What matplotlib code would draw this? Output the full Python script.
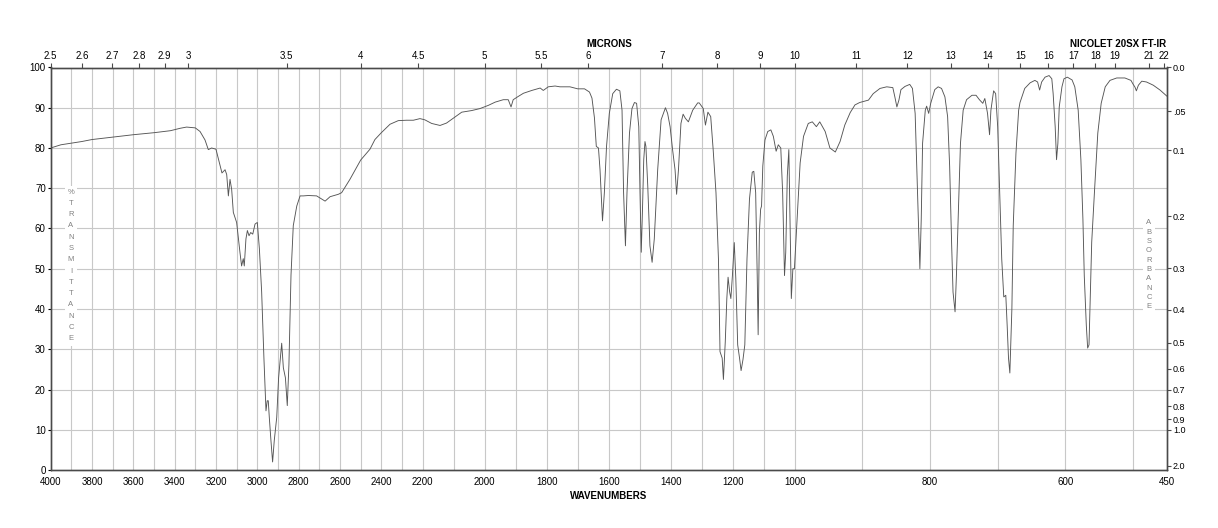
import numpy as np
import matplotlib
matplotlib.use("Agg")
import matplotlib.pyplot as plt
from matplotlib.patches import Rectangle

plt.rcParams['font.family'] = ['Liberation Sans', 'DejaVu Sans']

# spectrum (wavenumber, %T)
wavenumber = [4000, 3950, 3900, 3850, 3800, 3700, 3600, 3500, 3420, 3373, 3342, 3300, 3277, 3253, 3237,
              3221, 3200, 3187, 3171, 3156, 3148, 3140, 3132, 3124, 3116, 3100, 3084, 3076, 3068, 3063,
              3055, 3048, 3040, 3032, 3022, 3011, 3000, 2990, 2979, 2968, 2958, 2952, 2947, 2942, 2934,
              2926, 2918, 2906, 2897, 2890, 2882, 2874, 2864, 2855, 2847, 2837, 2826, 2809, 2793, 2777,
              2753, 2713, 2688, 2672, 2648, 2608, 2592, 2552, 2500, 2455, 2431, 2400, 2358, 2318, 2278,
              2245, 2213, 2193, 2171, 2144, 2123, 2096, 2074, 2042, 2015, 1988, 1966, 1940, 1924, 1915,
              1908, 1892, 1875, 1848, 1821, 1811, 1795, 1773, 1757, 1725, 1700, 1678, 1662, 1654, 1646,
              1640, 1633, 1628, 1620, 1614, 1607, 1598, 1587, 1575, 1564, 1557, 1552, 1546, 1541, 1533,
              1525, 1517, 1510, 1503, 1499, 1495, 1491, 1487, 1483, 1480, 1474, 1467, 1460, 1453, 1442,
              1431, 1417, 1410, 1402, 1394, 1386, 1381, 1375, 1367, 1360, 1353, 1343, 1329, 1313, 1308,
              1295, 1288, 1280, 1271, 1263, 1254, 1246, 1241, 1234, 1230, 1224, 1219, 1215, 1210, 1206,
              1201, 1195, 1190, 1184, 1178, 1173, 1167, 1161, 1154, 1146, 1137, 1132, 1126, 1121, 1118,
              1114, 1110, 1107, 1103, 1096, 1087, 1077, 1069, 1060, 1053, 1045, 1039, 1033, 1029, 1024,
              1019, 1015, 1011, 1006, 1001, 997, 992, 987, 980, 974, 968, 963, 955, 948, 940,
              933, 926, 918, 911, 904, 891, 884, 874, 864, 855, 852, 849, 846, 843, 837,
              830, 826, 822, 820, 817, 815, 813, 811, 807, 805, 802, 799, 793, 788, 783,
              778, 774, 771, 768, 766, 763, 761, 758, 755, 751, 746, 738, 732, 727, 722,
              719, 715, 712, 710, 706, 703, 700, 697, 694, 691, 688, 686, 684, 682, 679,
              677, 673, 669, 667, 660, 652, 645, 641, 638, 635, 630, 624, 620, 618, 615,
              613, 611, 609, 605, 602, 597, 590, 586, 581, 577, 574, 572, 569, 567, 565,
              563, 561, 557, 552, 547, 541, 534, 524, 512, 503, 500, 497, 495, 492, 487,
              480, 470, 460, 450]
transmittance = [80.0, 80.8, 81.2, 81.6, 82.1, 82.7, 83.3, 83.8, 84.3, 84.9, 85.2, 85.0, 84.1, 82.0, 79.6,
                 80.0, 79.7, 77.1, 73.8, 74.6, 73.4, 68.1, 72.2, 69.7, 64.0, 61.5, 54.1, 50.7, 52.5, 50.7,
                 57.4, 59.5, 58.2, 59.0, 58.6, 61.1, 61.5, 55.0, 44.3, 27.8, 14.7, 17.2, 17.2, 13.1, 7.3,
                 2.0, 7.3, 13.1, 22.9, 27.0, 31.5, 25.4, 22.9, 16.0, 26.2, 48.4, 60.7, 65.6, 68.1, 68.1,
                 68.2, 68.1, 67.3, 66.8, 67.9, 68.5, 68.9, 72.2, 77.0, 79.7, 82.1, 83.8, 85.9, 86.8, 86.9,
                 86.9, 87.3, 87.0, 86.1, 85.6, 86.2, 87.7, 88.9, 89.3, 89.8, 90.6, 91.4, 92.0, 92.0, 90.2,
                 92.0, 92.8, 93.6, 94.3, 94.9, 94.3, 95.2, 95.4, 95.2, 95.2, 94.7, 94.7, 93.9, 92.4, 87.5,
                 80.4, 80.0, 74.6, 61.9, 68.9, 80.4, 88.6, 93.5, 94.6, 94.2, 89.4, 68.9, 55.7, 68.9, 83.7,
                 89.8, 91.3, 91.1, 85.3, 68.9, 54.1, 64.8, 77.1, 81.6, 80.4, 70.5, 55.7, 51.6, 57.4, 74.6,
                 87.0, 90.0, 88.6, 85.3, 79.6, 74.6, 68.5, 74.6, 86.1, 88.4, 87.4, 86.5, 89.4, 91.2, 91.2,
                 89.8, 85.7, 88.9, 87.8, 79.5, 68.9, 52.4, 29.4, 27.8, 22.5, 31.9, 42.6, 47.9, 44.3, 42.6,
                 48.3, 56.5, 47.5, 31.1, 27.8, 24.7, 27.4, 31.1, 52.4, 67.3, 74.0, 74.2, 68.9, 48.3, 33.6,
                 59.0, 64.8, 65.6, 75.5, 82.0, 84.1, 84.5, 82.9, 79.2, 80.8, 80.0, 68.9, 48.3, 54.1, 73.0,
                 79.6, 60.7, 42.6, 50.0, 50.0, 60.7, 76.3, 82.9, 86.1, 86.5, 85.3, 86.5, 84.1, 80.0, 79.0,
                 81.6, 85.7, 88.8, 90.7, 91.3, 91.9, 93.5, 94.8, 95.2, 95.0, 92.7, 90.2, 91.9, 94.5, 95.3,
                 95.8, 94.8, 88.6, 77.1, 60.7, 50.0, 62.3, 81.2, 89.4, 90.4, 88.6, 91.1, 94.5, 95.2, 94.8,
                 92.7, 87.8, 75.5, 55.7, 44.2, 39.3, 48.3, 64.8, 81.2, 89.4, 92.0, 93.1, 93.1, 92.0, 91.1,
                 92.3, 88.6, 83.3, 89.4, 94.2, 93.5, 85.3, 68.9, 52.4, 43.0, 43.4, 36.0, 27.8, 24.1, 40.1,
                 60.7, 78.7, 89.4, 91.3, 94.8, 96.2, 96.8, 96.4, 94.4, 96.4, 97.6, 98.0, 97.2, 93.5, 85.3,
                 77.1, 81.2, 90.2, 95.2, 97.2, 97.6, 96.9, 95.2, 89.4, 77.1, 62.3, 48.3, 36.0, 30.3, 31.1,
                 44.2, 56.6, 68.9, 83.7, 91.1, 95.2, 96.8, 97.4, 97.4, 96.8, 95.9, 95.1, 94.2, 95.6, 96.6,
                 96.4, 95.6, 94.4, 92.9]

wn_ticks = [4000, 3800, 3600, 3400, 3200, 3000, 2800, 2600, 2400, 2200, 2000, 1800, 1600, 1400, 1200,
            1000, 800, 600, 450]
micron_ticks = [2.5, 2.6, 2.7, 2.8, 2.9, 3, 3.5, 4, 4.5, 5, 5.5, 6, 7, 8, 9, 10, 11, 12, 13, 14, 15,
                16, 17, 18, 19, 21, 22]
abs_ticks = [0.0, 0.05, 0.1, 0.2, 0.3, 0.4, 0.5, 0.6, 0.7, 0.8, 0.9, 1.0, 2.0]
abs_labels = ['0.0', '.05', '0.1', '0.2', '0.3', '0.4', '0.5', '0.6', '0.7', '0.8', '0.9', '1.0', '2.0']

# instrument chart: three equal-width pieces, 4000-2200, 2200-1000, 1000-450
BREAKS_WN = [450, 1000, 2200, 4000]
BREAKS_POS = [0, 1, 2, 3]


def fwd(w):
    return np.interp(w, BREAKS_WN, BREAKS_POS)


def inv(p):
    return np.interp(p, BREAKS_POS, BREAKS_WN)


W, H = 1218, 528


def px(x, y):
    return x / W, 1 - y / H


fig = plt.figure(figsize=(W / 100, H / 100), dpi=100)
left, right, top, bottom = 50.6, 1166.8, 67.5, 470
ax = fig.add_axes([left / W, 1 - bottom / H, (right - left) / W, (bottom - top) / H])
ax.set_xscale('function', functions=(fwd, inv))
ax.set_xlim(4000, 450)
ax.set_ylim(0, 100)

gridc = '#c8c8c8'
for g in np.arange(3900, 450, -100):
    ax.axvline(g, color=gridc, lw=0.8, zorder=1)
for g in range(10, 100, 10):
    ax.axhline(g, color=gridc, lw=0.8, zorder=1)

ax.plot(wavenumber, transmittance, color='#555555', lw=0.65, zorder=3)

ax.set_xticks(wn_ticks)
ax.set_xticklabels([str(t) for t in wn_ticks])
ax.set_yticks(range(0, 101, 10))
ax.tick_params(axis='x', length=0, pad=5, labelsize=7)
ax.tick_params(axis='y', length=2, pad=1.5, labelsize=7)
spine_c = '#4a4a4a'
for s in ax.spines.values():
    s.set_color(spine_c)
    s.set_linewidth(0.9)

ax_r = ax.twinx()
ax_r.set_ylim(0, 100)
ax_r.set_yticks([100 * 10 ** -a for a in abs_ticks])
ax_r.set_yticklabels(abs_labels)
ax_r.tick_params(axis='y', length=3, pad=1.5, labelsize=6.5, color=spine_c)

ax_t = ax.twiny()
ax_t.set_xscale('function', functions=(fwd, inv))
ax_t.set_xlim(4000, 450)
ax_t.set_xticks([10000 / m for m in micron_ticks])
ax_t.set_xticklabels([('%g' % m) for m in micron_ticks])
ax_t.tick_params(axis='x', length=3.5, pad=1, labelsize=7, color=spine_c)
for a in (ax_r, ax_t):
    for s in a.spines.values():
        s.set_color(spine_c)
        s.set_linewidth(0.9)

fig.text(*px(609, 44), 'MICRONS', ha='center', va='center', fontsize=7, fontweight='bold')
fig.text(*px(1118, 44), 'NICOLET 20SX FT-IR', ha='center', va='center', fontsize=7, fontweight='bold')
fig.text(*px(609, 496), 'WAVENUMBERS', ha='center', va='center', fontsize=7, fontweight='bold')

# stacked axis captions with a white strip behind them
for (cx, y0, y1, step, word) in [(71, 192, 186, 11.3, '%TRANSMITTANCE'), (1149, 223, 217, 9.33, 'ABSORBANCE')]:
    x0, yb = px(cx - 6, y1 + len(word) * step + 2)
    fig.add_artist(Rectangle((x0, yb), 12 / W, (len(word) * step + 2) / H, transform=fig.transFigure,
                             facecolor='white', edgecolor='none', zorder=4))
    for i, ch in enumerate(word):
        fig.text(*px(cx, y0 + i * step), ch, ha='center', va='center', fontsize=5.5,
                 color='#808080', zorder=5)

fig.savefig('out.png', dpi=100)
